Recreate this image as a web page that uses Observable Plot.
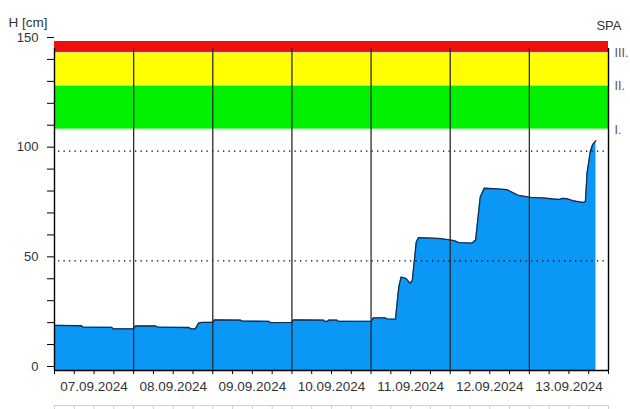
<!DOCTYPE html>
<html>
<head>
<meta charset="utf-8">
<script src="https://cdn.jsdelivr.net/npm/d3@7"></script>
<script src="https://cdn.jsdelivr.net/npm/@observablehq/plot@0.6"></script>
<style>
  html, body { margin: 0; padding: 0; background: #fff; }
  #chart { width: 630px; height: 409px; overflow: hidden; }
  svg { font-family: "Liberation Sans", Arial, sans-serif; }
</style>
</head>
<body>
<div id="chart"></div>
<script>
// ---- data (hours since 07.09.2024 00:00, water level in cm) ----
const hours = [
  0.0, 8.2, 8.6, 17.3, 17.8, 24.0, 24.5, 30.7, 31.2, 40.8, 41.3, 42.7, 43.7, 44.6, 48.0,
  48.5, 56.4, 56.9, 65.0, 65.5, 71.8, 72.5, 81.6, 81.9, 82.8, 83.1, 85.7, 86.0, 96.0,
  96.7, 100.3, 100.8, 103.4, 104.4, 105.1, 106.6, 107.8, 108.5, 109.7, 110.4, 116.4, 119.8,
  121.2, 122.6, 126.7, 127.7, 129.1, 130.3, 134.4, 137.3, 139.9, 140.7, 144.5, 148.8, 151.2,
  153.1, 154.1, 155.5, 157.2, 159.1, 160.3, 161.0, 161.5, 162.5, 163.2, 164.2
];
const levels = [
  20.6, 20.4, 19.8, 19.7, 19.0, 19.0, 20.3, 20.3, 19.8, 19.6, 19.0, 19.0, 21.6, 21.9, 22.0,
  23.1, 23.0, 22.5, 22.4, 21.8, 21.9, 23.1, 23.0, 22.4, 22.4, 23.0, 23.0, 22.4, 22.5,
  24.0, 24.0, 23.5, 23.4, 38.0, 42.6, 42.0, 39.8, 41.0, 58.5, 60.6, 60.2, 59.6,
  59.2, 58.3, 58.1, 59.5, 79.0, 83.1, 82.8, 82.4, 80.4, 79.8, 78.9, 78.6, 78.2,
  78.0, 78.5, 78.3, 77.4, 76.9, 76.6, 77.0, 90.0, 100.0, 103.0, 104.8
];
const dayLabels = ["07.09.2024", "08.09.2024", "09.09.2024", "10.09.2024", "11.09.2024", "12.09.2024", "13.09.2024"];
const bandLevels = [110, 130, 145, 150];
const bandColors = ["#00f000", "#ffff00", "#ee1010"];
const bandNames = ["I.", "II.", "III."];
const yLabelTicks = [0, 50, 100, 150];
const dottedLevels = [50, 100];

// ---- derived tables ----
const t0 = Date.UTC(2024, 8, 7);
const H = 3600e3;
const series = hours.map((h, i) => ({date: new Date(t0 + h * H), level: levels[i]}));
const start = new Date(t0), end = new Date(t0 + 7 * 24 * H);
const dayStarts = d3.range(1, 7).map(i => new Date(t0 + i * 24 * H));
const noons = dayLabels.map((s, i) => ({date: new Date(t0 + (i * 24 + 12) * H), label: s}));
const sixHours = d3.range(0, 7 * 4 + 1).map(i => new Date(t0 + i * 6 * H));
const bands = bandColors.map((c, i) => ({lo: bandLevels[i], hi: bandLevels[i + 1], color: c}));
const bandTexts = bandNames.map((n, i) => ({level: bandLevels[i], name: n}));

const textColor = "#333";

const plot = Plot.plot({
  width: 630,
  height: 409,
  marginLeft: 54,
  marginRight: 22,
  marginTop: 41,
  marginBottom: 39,
  style: {fontFamily: "Liberation Sans, Arial, sans-serif", fontSize: "13px", color: textColor, background: "#fff"},
  x: {type: "utc", domain: [start, end], axis: null},
  y: {domain: [0, 150], axis: null},
  color: {type: "identity"},
  marks: [
    // alarm bands
    Plot.rect(bands, {x1: () => start, x2: () => end, y1: "lo", y2: "hi", fill: "color"}),
    Plot.ruleY([bandLevels[0]], {x1: start, x2: end, stroke: "#b8f0a8", strokeWidth: 1}),
    Plot.ruleY([bandLevels[1]], {x1: start, x2: end, stroke: "#d8f7a0", strokeWidth: 0.8}),
    Plot.ruleY([bandLevels[2]], {x1: start, x2: end, stroke: "#f4e0a0", strokeWidth: 0.8}),
    // water level area
    Plot.areaY(series, {x: "date", y: "level", fill: "#0a97f5", curve: "linear"}),
    Plot.line(series, {x: "date", y: "level", stroke: "#1b2b4a", strokeWidth: 1.3}),
    // dotted gridlines
    Plot.ruleY(dottedLevels, {x1: start, x2: end, stroke: "#000", strokeWidth: 1.3, strokeDasharray: "1.3,4.2", insetLeft: 4}),
    // day separators
    Plot.ruleX(dayStarts, {y1: 0, y2: 150, stroke: "#2a2a2a", strokeWidth: 1.3, insetBottom: -7}),
    // frame: left axis and right border
    Plot.ruleX([start], {y1: 0, y2: 150, stroke: "#000", strokeWidth: 1.4, insetBottom: -7}),
    Plot.ruleX([end], {y1: 0, y2: 150, stroke: "#000", strokeWidth: 1.4, insetBottom: -7}),
    // x axis line
    Plot.ruleY([0], {x1: start, x2: end, stroke: "#000", strokeWidth: 1.4}),
    // x minor ticks
    Plot.ruleX(sixHours, {y1: 0, y2: 0, insetBottom: -4, stroke: "#000", strokeWidth: 1}),
    // y ticks and labels
    Plot.axisY({ticks: d3.range(0, 151, 10), tickSize: 7, tickPadding: 9, tickFormat: d => yLabelTicks.includes(d) ? d : "", fontSize: 13, dy: -4, stroke: "#000"}),
    // x labels
    Plot.text(noons, {x: "date", y: () => 0, text: "label", dy: 16, fontSize: 13.5, fill: textColor}),
    // band labels
    Plot.text(bandTexts, {x: () => end, y: "level", text: "name", textAnchor: "start", dx: 6, dy: 1, fontSize: 12.5, fill: "#555"}),
    // titles
    Plot.text(["H [cm]"], {frameAnchor: "top-left", dx: -46, dy: -24, textAnchor: "start", fontSize: 13.5, fill: textColor}),
    Plot.text(["SPA"], {frameAnchor: "top-right", dx: 13, dy: -21, textAnchor: "end", fontSize: 13, fill: textColor}),
    // cut-off table strip at the very bottom
    Plot.ruleY([0], {x1: start, x2: end, dy: 35, stroke: "#d0d0d0"}),
    Plot.ruleX(sixHours, {y1: 0, y2: 0, insetTop: 35, insetBottom: -40, stroke: "#d0d0d0"})
  ]
});
document.getElementById("chart").appendChild(plot);
</script>
</body>
</html>
